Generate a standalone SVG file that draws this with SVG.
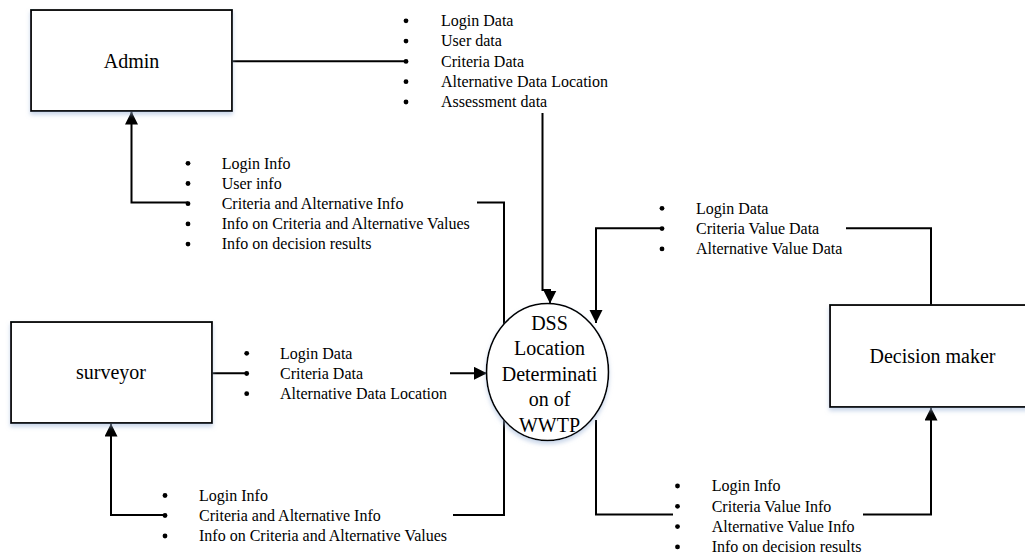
<svg xmlns="http://www.w3.org/2000/svg" width="1025" height="558" viewBox="0 0 1025 558">
<style>
.box{fill:#fff;stroke:#000;stroke-width:1.8;filter:url(#sh)}
.proc{fill:#fff;stroke:#000;stroke-width:1.6;filter:url(#sh)}
.lbl{font-family:"Liberation Serif","Times New Roman",serif;font-size:20px;fill:#000;text-anchor:middle}
.li{font-family:"Liberation Serif","Times New Roman",serif;font-size:16px;fill:#000}
.dot{fill:#000}
.ln{fill:none;stroke:#000;stroke-width:2}
.ar{fill:none;stroke:#000;stroke-width:2;marker-end:url(#ah)}
</style>
<defs>
<filter id="sh" x="-10%" y="-10%" width="120%" height="130%">
<feDropShadow dx="0" dy="3" stdDeviation="2" flood-color="#9fb6d8" flood-opacity="0.55"/>
</filter>
<marker id="ah" markerUnits="userSpaceOnUse" markerWidth="14" markerHeight="14" refX="13" refY="6.5" orient="auto">
<path d="M0,0 L13,6.5 L0,13 z" fill="#000"/>
</marker>
</defs>
<rect width="1025" height="558" fill="#fff"/>

<g id="connectors">
<path class="ln" d="M232,61.3 H406"/>
<path class="ar" d="M542.5,113 V290 H550 V303.5"/>
<path class="ln" d="M477,202.5 H504 V515 H453"/>
<path class="ar" d="M188,202.5 H131.5 V111.5"/>
<path class="ln" d="M212,373.3 H246.7"/>
<path class="ar" d="M450,373.3 H487"/>
<path class="ar" d="M165,515 H111 V423.5"/>
<path class="ln" d="M931,305 V228.3 H846"/>
<path class="ar" d="M662,228.3 H596 V323"/>
<path class="ln" d="M596,420 V514.5 H673"/>
<path class="ar" d="M863,514.5 H931 V407.5"/>
</g>

<g id="admin">
<rect class="box" x="31" y="10" width="201" height="101"/>
<text class="lbl" x="131.5" y="67.5">Admin</text>
</g>

<g id="surveyor">
<rect class="box" x="11" y="322" width="201" height="101"/>
<text class="lbl" x="111" y="379">surveyor</text>
</g>

<g id="decision-maker">
<rect class="box" x="830" y="305" width="200" height="102"/>
<text class="lbl" x="932.5" y="363">Decision maker</text>
</g>

<g id="process">
<ellipse class="proc" cx="547.5" cy="372" rx="61" ry="68.5"/>
<text class="lbl" x="549.5" y="329.5">DSS</text>
<text class="lbl" x="549.5" y="355">Location</text>
<text class="lbl" x="549.5" y="380.5">Determinati</text>
<text class="lbl" x="549.5" y="406">on of</text>
<text class="lbl" x="549.5" y="431.5">WWTP</text>
</g>

<g id="list-admin-out">
<circle class="dot" cx="406" cy="20.8" r="2.4"/><text class="li" x="441" y="26">Login Data</text>
<circle class="dot" cx="406" cy="41.1" r="2.4"/><text class="li" x="441" y="46.3">User data</text>
<circle class="dot" cx="406" cy="61.4" r="2.4"/><text class="li" x="441" y="66.6">Criteria Data</text>
<circle class="dot" cx="406" cy="81.7" r="2.4"/><text class="li" x="441" y="86.9">Alternative Data Location</text>
<circle class="dot" cx="406" cy="102" r="2.4"/><text class="li" x="441" y="107.2">Assessment data</text>
</g>

<g id="list-admin-in">
<circle class="dot" cx="188" cy="163.3" r="2.4"/><text class="li" x="221.7" y="168.5">Login Info</text>
<circle class="dot" cx="188" cy="183.5" r="2.4"/><text class="li" x="221.7" y="188.7">User info</text>
<circle class="dot" cx="188" cy="203.7" r="2.4"/><text class="li" x="221.7" y="208.9">Criteria and Alternative Info</text>
<circle class="dot" cx="188" cy="223.9" r="2.4"/><text class="li" x="221.7" y="229.1">Info on Criteria and Alternative Values</text>
<circle class="dot" cx="188" cy="244.1" r="2.4"/><text class="li" x="221.7" y="249.3">Info on decision results</text>
</g>

<g id="list-decision-out">
<circle class="dot" cx="662" cy="208.3" r="2.4"/><text class="li" x="696" y="213.5">Login Data</text>
<circle class="dot" cx="662" cy="228.6" r="2.4"/><text class="li" x="696" y="233.8">Criteria Value Data</text>
<circle class="dot" cx="662" cy="248.9" r="2.4"/><text class="li" x="696" y="254.1">Alternative Value Data</text>
</g>

<g id="list-surveyor-out">
<circle class="dot" cx="246.7" cy="353.3" r="2.4"/><text class="li" x="280" y="358.5">Login Data</text>
<circle class="dot" cx="246.7" cy="373.5" r="2.4"/><text class="li" x="280" y="378.7">Criteria Data</text>
<circle class="dot" cx="246.7" cy="393.7" r="2.4"/><text class="li" x="280" y="398.9">Alternative Data Location</text>
</g>

<g id="list-surveyor-in">
<circle class="dot" cx="165" cy="495.5" r="2.4"/><text class="li" x="199" y="500.7">Login Info</text>
<circle class="dot" cx="165" cy="515.5" r="2.4"/><text class="li" x="199" y="520.7">Criteria and Alternative Info</text>
<circle class="dot" cx="165" cy="536" r="2.4"/><text class="li" x="199" y="541.2">Info on Criteria and Alternative Values</text>
</g>

<g id="list-decision-in">
<circle class="dot" cx="677.5" cy="486" r="2.4"/><text class="li" x="711.7" y="491.2">Login Info</text>
<circle class="dot" cx="677.5" cy="506.3" r="2.4"/><text class="li" x="711.7" y="511.5">Criteria Value Info</text>
<circle class="dot" cx="677.5" cy="526.6" r="2.4"/><text class="li" x="711.7" y="531.8">Alternative Value Info</text>
<circle class="dot" cx="677.5" cy="546.9" r="2.4"/><text class="li" x="711.7" y="552.1">Info on decision results</text>
</g>
</svg>
